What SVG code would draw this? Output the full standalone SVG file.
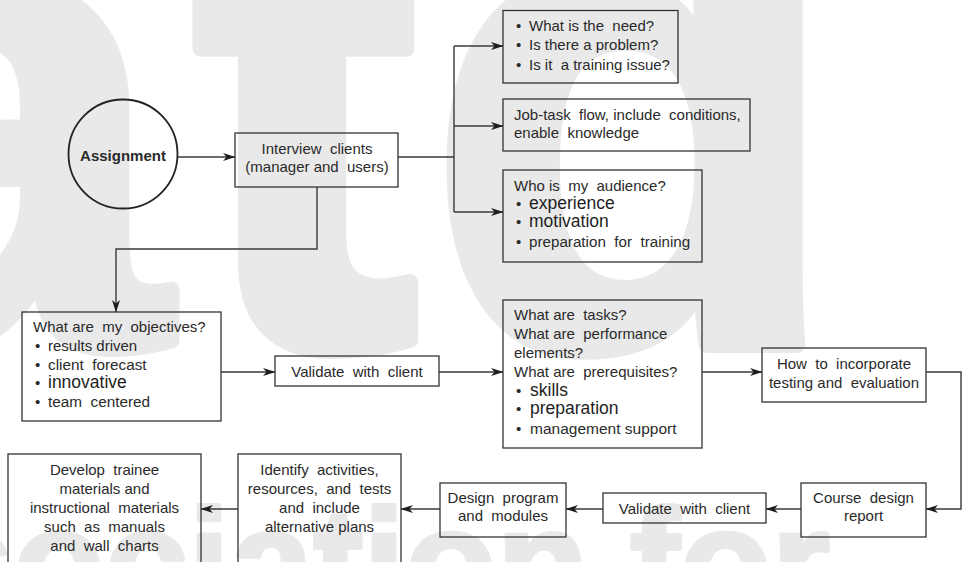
<svg xmlns="http://www.w3.org/2000/svg" width="962" height="562" viewBox="0 0 962 562">
  <style>
    .bg { fill: #e9e9e9; stroke: #e9e9e9; stroke-linejoin: round; font-family: "Liberation Sans", Arial, sans-serif; font-weight: bold; }
    .box { fill: none; stroke: #333; stroke-width: 1.3; }
    .t { font-family: "Liberation Sans", Arial, Helvetica, sans-serif; font-size: 15px; fill: #2a2a2a; white-space: pre; }
    .c { text-anchor: middle; }
    .big { font-size: 17.5px; fill: #1e1e1e; }
    .conn path { fill: none; stroke: #3a3a3a; stroke-width: 1.4; }
  </style>
  <defs>
    <marker id="arrow" markerWidth="13" markerHeight="9" refX="12" refY="4" orient="auto" markerUnits="userSpaceOnUse">
      <path d="M0,0 L12.5,4 L0,8 L3.5,4 z" fill="#1e1e1e"/>
    </marker>
  </defs>

  <rect width="962" height="562" fill="#ffffff"/>

  <!-- background lettering -->
  <g id="backdrop">
    <text class="bg" x="-186" y="345" font-size="680" stroke-width="16" dx="-25 25 8">atd</text>
    <text class="bg" x="-262" y="614" font-size="150" stroke-width="4">Association for</text>
  </g>

  <!-- connectors -->
  <g id="connectors" class="conn">
    <path d="M177.5,157 H235" marker-end="url(#arrow)"/>
    <path d="M398,157 H454 M454,46 V212"/>
    <path d="M454,46 H503" marker-end="url(#arrow)"/>
    <path d="M454,126 H503" marker-end="url(#arrow)"/>
    <path d="M454,212 H503" marker-end="url(#arrow)"/>
    <path d="M317,187 V249 H116 V312" marker-end="url(#arrow)"/>
    <path d="M221,372 H275" marker-end="url(#arrow)"/>
    <path d="M439,372 H503" marker-end="url(#arrow)"/>
    <path d="M702,372 H762" marker-end="url(#arrow)"/>
    <path d="M926,372 H961 V509 H926" marker-end="url(#arrow)"/>
    <path d="M801,509 H766" marker-end="url(#arrow)"/>
    <path d="M603,509 H566" marker-end="url(#arrow)"/>
    <path d="M440,509 H401" marker-end="url(#arrow)"/>
    <path d="M238,509 H201" marker-end="url(#arrow)"/>
  </g>

  <!-- nodes -->
  <g id="assignment">
    <circle cx="123" cy="154" r="54.5" fill="none" stroke="#222" stroke-width="1.8"/>
    <text class="t c" x="123" y="161" font-weight="bold" fill="#222">Assignment</text>
  </g>

  <g id="interview">
    <rect class="box" x="235" y="133" width="163" height="54"/>
    <text class="t c" x="317" y="154">Interview  clients</text>
    <text class="t c" x="317" y="172">(manager and  users)</text>
  </g>

  <g id="need">
    <rect class="box" x="503" y="10.5" width="175" height="72.5"/>
    <text class="t"><tspan x="516" y="31">•</tspan><tspan x="529" y="31">What is the  need?</tspan></text>
    <text class="t"><tspan x="516" y="50">•</tspan><tspan x="529" y="50">Is there a problem?</tspan></text>
    <text class="t"><tspan x="516" y="70">•</tspan><tspan x="529" y="70">Is it  a training issue?</tspan></text>
  </g>

  <g id="jobtask">
    <rect class="box" x="503" y="99" width="247" height="52"/>
    <text class="t" x="514" y="120" font-size="14.8">Job-task  flow, include  conditions,</text>
    <text class="t" x="514" y="138" font-size="14.8">enable  knowledge</text>
  </g>

  <g id="audience">
    <rect class="box" x="503" y="170" width="199" height="92"/>
    <text class="t" x="514" y="191">Who is  my  audience?</text>
    <text class="t"><tspan x="516" y="209">•</tspan><tspan class="big" x="529" y="209">experience</tspan></text>
    <text class="t"><tspan x="516" y="227">•</tspan><tspan class="big" x="529" y="227">motivation</tspan></text>
    <text class="t"><tspan x="516" y="247">•</tspan><tspan x="529" y="247" font-size="15.2">preparation  for  training</tspan></text>
  </g>

  <g id="objectives">
    <rect class="box" x="22" y="312" width="199" height="109"/>
    <text class="t" x="33" y="332" font-size="14.8">What are  my  objectives?</text>
    <text class="t"><tspan x="35" y="351">•</tspan><tspan x="48" y="351">results driven</tspan></text>
    <text class="t"><tspan x="35" y="370">•</tspan><tspan x="48" y="370" font-size="15.3">client  forecast</tspan></text>
    <text class="t"><tspan x="35" y="388">•</tspan><tspan class="big" x="48" y="388">innovative</tspan></text>
    <text class="t"><tspan x="35" y="407">•</tspan><tspan x="48" y="407" font-size="15.3">team  centered</tspan></text>
  </g>

  <g id="validate1">
    <rect class="box" x="275" y="356" width="164" height="30"/>
    <text class="t c" x="357" y="377" font-size="15.2">Validate  with  client</text>
  </g>

  <g id="tasks">
    <rect class="box" x="503" y="300" width="199" height="148"/>
    <text class="t" x="514" y="320" font-size="15">What are  tasks?</text>
    <text class="t" x="514" y="339" font-size="15">What are  performance</text>
    <text class="t" x="514" y="358" font-size="15">elements?</text>
    <text class="t" x="514" y="377" font-size="15">What are  prerequisites?</text>
    <text class="t"><tspan x="516" y="396">•</tspan><tspan class="big" x="530" y="396">skills</tspan></text>
    <text class="t"><tspan x="516" y="414">•</tspan><tspan class="big" x="530" y="414" font-size="18">preparation</tspan></text>
    <text class="t"><tspan x="516" y="434">•</tspan><tspan x="530" y="434" font-size="15.5">management support</tspan></text>
  </g>

  <g id="testing">
    <rect class="box" x="762" y="348" width="164" height="54"/>
    <text class="t c" x="844" y="369" font-size="15">How  to  incorporate</text>
    <text class="t c" x="844" y="388" font-size="15">testing and  evaluation</text>
  </g>

  <g id="report">
    <rect class="box" x="801" y="483" width="125" height="54"/>
    <text class="t c" x="863.5" y="503" font-size="15.5">Course  design</text>
    <text class="t c" x="863.5" y="521" font-size="15.5">report</text>
  </g>

  <g id="validate2">
    <rect class="box" x="603" y="493" width="163" height="30"/>
    <text class="t c" x="684.5" y="514" font-size="15.2">Validate  with  client</text>
  </g>

  <g id="design">
    <rect class="box" x="440" y="483" width="126" height="54"/>
    <text class="t c" x="503" y="503" font-size="15.3">Design  program</text>
    <text class="t c" x="503" y="521" font-size="15.3">and  modules</text>
  </g>

  <g id="identify">
    <rect class="box" x="238" y="454" width="163" height="120"/>
    <text class="t c" x="319.5" y="475" font-size="15.3">Identify  activities,</text>
    <text class="t c" x="319.5" y="494" font-size="15">resources,  and  tests</text>
    <text class="t c" x="319.5" y="513" font-size="15.3">and  include</text>
    <text class="t c" x="319.5" y="532" font-size="15.3">alternative plans</text>
  </g>

  <g id="develop">
    <rect class="box" x="8" y="454" width="193" height="120"/>
    <text class="t c" x="104.5" y="475" font-size="15.3">Develop  trainee</text>
    <text class="t c" x="104.5" y="494" font-size="15.3">materials and</text>
    <text class="t c" x="104.5" y="513" font-size="15.3">instructional  materials</text>
    <text class="t c" x="104.5" y="532" font-size="15.3">such  as  manuals</text>
    <text class="t c" x="104.5" y="551" font-size="15.3">and  wall  charts</text>
  </g>
</svg>
